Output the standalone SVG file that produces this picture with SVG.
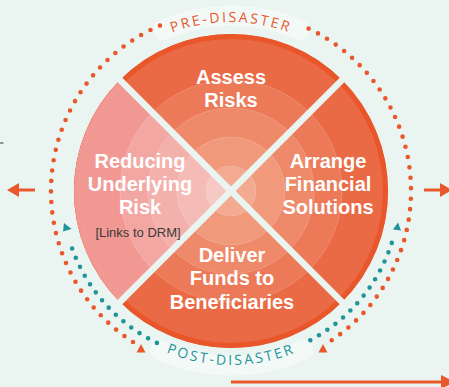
<svg xmlns="http://www.w3.org/2000/svg" width="449" height="387" viewBox="0 0 449 387">
  <defs>
    <style>
      .lbl { font-family: "Liberation Sans", Arial, sans-serif; font-weight: 700; font-size: 20px; fill: #ffffff; text-anchor: middle; }
      .sub { font-family: "Liberation Sans", Arial, sans-serif; font-size: 13px; fill: #3a3a3a; text-anchor: middle; }
      .phase { font-family: "Open Sans", "Liberation Sans", sans-serif; font-size: 14px; letter-spacing: 2.4px; }
      .ring { stroke: #ffffff; stroke-opacity: 0.22; stroke-width: 0.8; }
      .odots { fill: none; stroke: #E9572B; stroke-width: 4.6; stroke-linecap: round; stroke-dasharray: 0 10.5; }
      .tdots { fill: none; stroke: #1F9598; stroke-width: 4.6; stroke-linecap: round; stroke-dasharray: 0 10; }
      .arrow { stroke: #E9572B; stroke-width: 3; fill: none; }
      .gap { stroke: #EAF4F1; stroke-width: 6.5; }
    </style>
    <clipPath id="leftWedge">
      <polygon points="231,191 -69,-109 -69,491"/>
    </clipPath>
    <path id="preArc" d="M 62,191 A 169 169 0 0 1 400,191"/>
    <path id="postArc" d="M 57,191 A 174 174 0 0 0 405,191"/>
  </defs>

  <rect width="449" height="387" fill="#EAF4F1"/>

  <!-- pale label bands -->
  <path d="M 163,30 A 173 173 0 0 1 300,30" fill="none" stroke="#F3F9F7" stroke-width="20" stroke-linecap="round"/>
  <path d="M 160,350 A 172 172 0 0 0 303,350" fill="none" stroke="#F3F9F7" stroke-width="20" stroke-linecap="round"/>

  <!-- wheel -->
  <g id="wheel">
    <circle cx="231" cy="191" r="157" fill="#EA6A45"/>
    <circle cx="231" cy="191" r="154.5" fill="none" stroke="#E8562A" stroke-width="5"/>
    <circle class="ring" cx="231" cy="191" r="111" fill="#EC7A58"/>
    <circle class="ring" cx="231" cy="191" r="83" fill="#EE8969"/>
    <circle class="ring" cx="231" cy="191" r="54" fill="#F0997B"/>
    <circle class="ring" cx="231" cy="191" r="25" fill="#F2AA90"/>
    <g clip-path="url(#leftWedge)">
      <circle cx="231" cy="191" r="157" fill="#F29893"/>
      <circle cx="231" cy="191" r="152" fill="none" stroke="#F4A39E" stroke-opacity="0.5" stroke-width="1"/>
      <circle class="ring" cx="231" cy="191" r="111" fill="#F3A7A2"/>
      <circle class="ring" cx="231" cy="191" r="83" fill="#F4B1AC"/>
      <circle class="ring" cx="231" cy="191" r="54" fill="#F5BCB7"/>
      <circle class="ring" cx="231" cy="191" r="25" fill="#F7C9C4"/>
    </g>
    <line class="gap" x1="118" y1="78" x2="344" y2="304"/>
    <line class="gap" x1="344" y1="78" x2="118" y2="304"/>
  </g>

  <g id="assess-risks">
    <text class="lbl" x="231" y="84">Assess</text>
    <text class="lbl" x="231" y="107">Risks</text>
  </g>
  <g id="reducing-underlying-risk">
    <text class="lbl" x="140" y="168">Reducing</text>
    <text class="lbl" x="140" y="191">Underlying</text>
    <text class="lbl" x="140" y="214">Risk</text>
    <text class="sub" x="138" y="237">[Links to DRM]</text>
  </g>
  <g id="arrange-financial-solutions">
    <text class="lbl" x="328" y="168">Arrange</text>
    <text class="lbl" x="328" y="191">Financial</text>
    <text class="lbl" x="328" y="214">Solutions</text>
  </g>
  <g id="deliver-funds">
    <text class="lbl" x="232" y="262">Deliver</text>
    <text class="lbl" x="232" y="285">Funds to</text>
    <text class="lbl" x="232" y="309">Beneficiaries</text>
  </g>

  <g id="phase-labels">
    <text class="phase" fill="#E9572B"><textPath href="#preArc" startOffset="50%" text-anchor="middle">PRE-DISASTER</textPath></text>
    <text class="phase" fill="#1F9598"><textPath href="#postArc" startOffset="50%" text-anchor="middle">POST-DISASTER</textPath></text>
  </g>

  <g id="connectors">
    <path class="odots" d="M 133,342 A 180 180 0 0 1 163.6,24.1"/>
    <path class="odots" d="M 331.7,340.2 A 180 180 0 0 0 301.3,25.3"/>
    <path class="tdots" d="M 156.9,342.9 A 169 169 0 0 1 69.4,240.4"/>
    <path class="tdots" d="M 310.3,340.2 A 169 169 0 0 0 394.2,234.7"/>
    <polygon points="141,344 136.5,352.5 145.5,352.5" fill="#E9572B"/>
    <polygon points="323,344 318.5,352.5 327.5,352.5" fill="#E9572B"/>
    <polygon points="64,223 71.5,229 63,231.5" fill="#1F9598"/>
    <polygon points="398,222.5 393,229.5 401,230.5" fill="#1F9598"/>

    <line class="arrow" x1="35" y1="190" x2="16" y2="190"/>
    <polygon points="7,190 19,183 19,197" fill="#E9572B"/>
    <line class="arrow" x1="424" y1="190" x2="442" y2="190"/>
    <polygon points="452,190 440,183 440,197" fill="#E9572B"/>
    <line class="arrow" x1="231" y1="382" x2="443" y2="382"/>
    <polygon points="455,382 441,375 441,389" fill="#E9572B"/>
  </g>

  <line x1="0" y1="143" x2="3.5" y2="143" stroke="#555" stroke-width="1.2"/>
</svg>
